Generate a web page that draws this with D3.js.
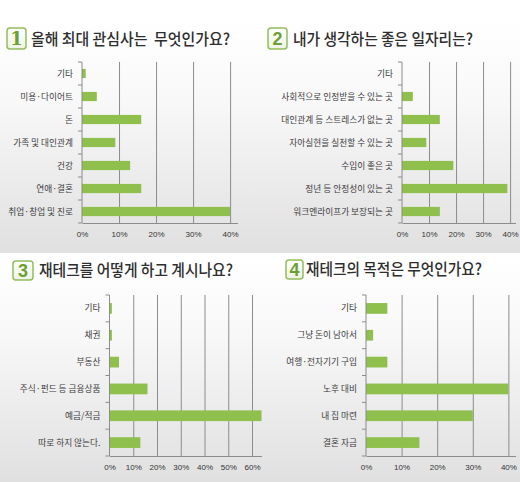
<!DOCTYPE html>
<html>
<head>
<meta charset="utf-8">
<script src="https://cdn.jsdelivr.net/npm/d3@7"></script>
<style>
  body { margin: 0; background: #fff; }
  svg { display: block; }
  text { font-family: "Noto Sans CJK KR", sans-serif; }
</style>
</head>
<body>
<svg id="chart" width="520" height="482"></svg>
<script>
// survey answers, percent
const q1Labels = ['기타', '미용·다이어트', '돈', '가족 및 대인관계', '건강', '연애·결혼', '취업·창업 및 진로'];
const q1Values = [1, 4, 16, 9, 13, 16, 40];

const q2Labels = ['기타', '사회적으로 인정받을 수 있는 곳', '대인관계 등 스트레스가 없는 곳', '자아실현을 실천할 수 있는 곳', '수입이 좋은 곳', '정년 등 안정성이 있는 곳', '워크엔라이프가 보장되는 곳'];
const q2Values = [0, 4, 14, 9, 19, 39, 14];

const q3Labels = ['기타', '채권', '부동산', '주식·펀드 등 금융상품', '예금/적금', '따로 하지 않는다.'];
const q3Values = [1, 1, 4, 16, 64, 13];

const q4Labels = ['기타', '그냥 돈이 남아서', '여행·전자기기 구입', '노후 대비', '내 집 마련', '결혼 자금'];
const q4Values = [6, 2, 6, 40, 30, 15];

const ticks40 = [0, 10, 20, 30, 40];
const ticks60 = [0, 10, 20, 30, 40, 50, 60];

const titles = ['올해 최대 관심사는  무엇인가요?', '내가 생각하는 좋은 일자리는?', '재테크를 어떻게 하고 계시나요?', '재테크의 목적은 무엇인가요?'];
const numbers = ['1', '2', '3', '4'];

const barColor = '#8fbf4c';
const gridColor = '#8c8c8c';

const svg = d3.select('#chart');
const defs = svg.append('defs');

let bg = defs.append('linearGradient').attr('id', 'rowBg').attr('x1', 0).attr('y1', 0).attr('x2', 0).attr('y2', 1);
bg.append('stop').attr('offset', '0%').attr('stop-color', '#ffffff');
bg.append('stop').attr('offset', '35%').attr('stop-color', '#f8f8f8');
bg.append('stop').attr('offset', '100%').attr('stop-color', '#e0e0e0');

let boxBg = defs.append('linearGradient').attr('id', 'boxBg').attr('x1', 0).attr('y1', 0).attr('x2', 0).attr('y2', 1);
boxBg.append('stop').attr('offset', '0%').attr('stop-color', '#ffffff');
boxBg.append('stop').attr('offset', '100%').attr('stop-color', '#edf3e4');

// two rows of panels
svg.append('rect').attr('x', 0).attr('y', 20).attr('width', 520).attr('height', 233).attr('fill', 'url(#rowBg)');
svg.append('rect').attr('x', 0).attr('y', 254).attr('width', 520).attr('height', 228).attr('fill', 'url(#rowBg)');

const panels = [
  {labels: q1Labels, values: q1Values, ticks: ticks40, max: 42, x0: 82, x1: 237.5, top: 62, bottom: 223,
    box: [7, 28, 19, 21], titleX: 31, titleW: 199, titleY: 39, numFont: '"DejaVu Serif", serif'},
  {labels: q2Labels, values: q2Values, ticks: ticks40, max: 42, x0: 402, x1: 515.5, top: 62, bottom: 223,
    box: [268, 28, 19, 21], titleX: 293, titleW: 180, titleY: 39, numFont: '"Liberation Sans", sans-serif'},
  {labels: q3Labels, values: q3Values, ticks: ticks60, max: 64, x0: 109.5, x1: 261.5, top: 295, bottom: 456,
    box: [13, 261, 20, 19], titleX: 39, titleW: 194, titleY: 270, numFont: '"Liberation Sans", sans-serif'},
  {labels: q4Labels, values: q4Values, ticks: ticks40, max: 42, x0: 366, x1: 515.5, top: 295, bottom: 456,
    box: [286, 260, 17, 19], titleX: 306, titleW: 176, titleY: 269, numFont: '"Liberation Sans", sans-serif'}
];

panels.forEach(function (p, i) {
  const g = svg.append('g');

  // heading
  g.append('rect')
    .attr('x', p.box[0]).attr('y', p.box[1])
    .attr('width', p.box[2]).attr('height', p.box[3])
    .attr('rx', 3)
    .attr('fill', 'url(#boxBg)')
    .attr('stroke', '#93bd5c')
    .attr('stroke-width', 1.5);
  g.append('text')
    .attr('x', p.box[0] + p.box[2] / 2)
    .attr('y', p.box[1] + p.box[3] / 2)
    .attr('dy', '0.36em')
    .attr('text-anchor', 'middle')
    .style('font-family', p.numFont)
    .attr('font-weight', 'bold')
    .attr('font-size', 18)
    .attr('fill', '#6e9f33')
    .text(numbers[i]);
  g.append('text')
    .attr('x', p.titleX)
    .attr('y', p.titleY)
    .attr('dy', '0.36em')
    .attr('font-size', 16)
    .attr('font-weight', 500)
    .attr('fill', '#2e2e2e')
    .attr('textLength', p.titleW)
    .attr('lengthAdjust', 'spacingAndGlyphs')
    .style('white-space', 'pre')
    .text(titles[i]);

  const x = d3.scaleLinear().domain([0, p.max]).range([p.x0, p.x1]);
  const y = d3.scaleBand().domain(p.labels).range([p.top, p.bottom]).paddingInner(0.6).paddingOuter(0.3);

  // vertical gridlines
  g.append('g')
    .attr('transform', 'translate(0,' + p.bottom + ')')
    .call(d3.axisBottom(x).tickValues(p.ticks.slice(1)).tickSize(-(p.bottom - p.top)).tickFormat(''))
    .call(function (a) {
      a.select('.domain').remove();
      a.selectAll('line').attr('stroke', gridColor);
    });

  g.selectAll('.bar')
    .data(p.values)
    .enter()
    .append('rect')
    .attr('class', 'bar')
    .attr('x', x(0))
    .attr('y', (d, j) => y(p.labels[j]))
    .attr('width', d => x(d) - x(0))
    .attr('height', y.bandwidth())
    .attr('fill', barColor);

  // bottom axis
  g.append('g')
    .attr('transform', 'translate(0,' + p.bottom + ')')
    .call(d3.axisBottom(x).tickValues(p.ticks).tickSize(0).tickPadding(8).tickFormat(d => d + '%'))
    .call(function (a) {
      a.select('.domain').attr('stroke', gridColor);
      a.selectAll('text')
        .style('font-family', '"Liberation Sans", Arial, sans-serif')
        .attr('font-size', 8)
        .attr('fill', '#333');
    });

  // left axis with ticks between categories
  const left = g.append('g');
  left.append('line')
    .attr('x1', p.x0).attr('x2', p.x0)
    .attr('y1', p.top).attr('y2', p.bottom)
    .attr('stroke', gridColor);
  left.selectAll('.sep')
    .data(d3.range(p.labels.length + 1))
    .enter()
    .append('line')
    .attr('class', 'sep')
    .attr('x1', p.x0 - 4).attr('x2', p.x0)
    .attr('y1', j => p.top + j * y.step())
    .attr('y2', j => p.top + j * y.step())
    .attr('stroke', gridColor);
  left.selectAll('.cat')
    .data(p.labels)
    .enter()
    .append('text')
    .attr('class', 'cat')
    .attr('x', p.x0 - 9)
    .attr('y', d => y(d) + y.bandwidth() / 2)
    .attr('dy', '0.35em')
    .attr('text-anchor', 'end')
    .attr('font-size', 8.7)
    .attr('fill', '#3c3c3c')
    .text(d => d);
});
</script>
</body>
</html>
